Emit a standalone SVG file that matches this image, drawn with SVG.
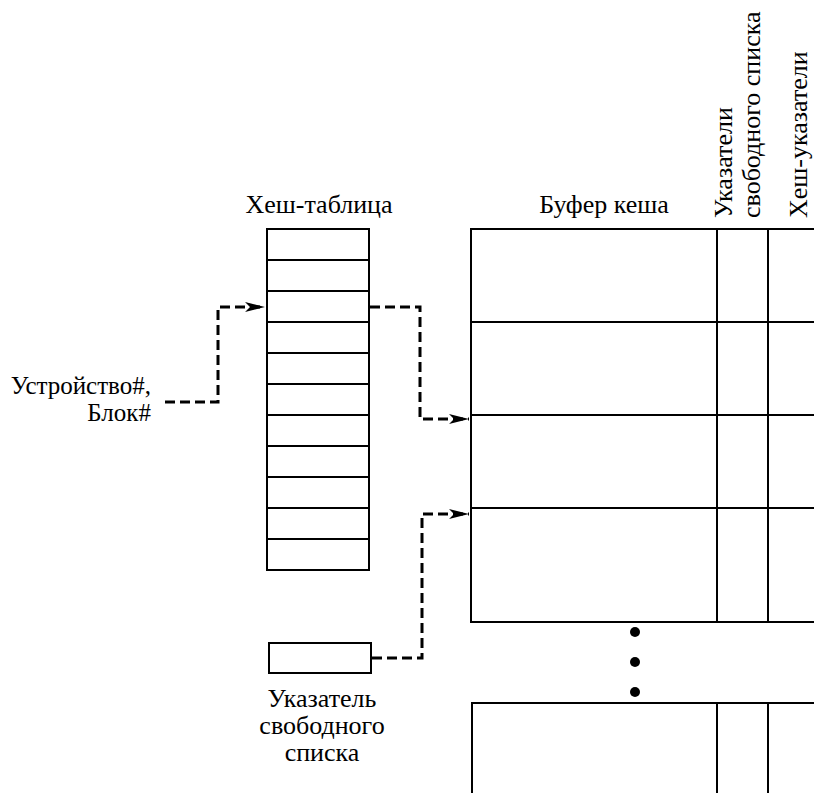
<svg xmlns="http://www.w3.org/2000/svg" width="814" height="793" viewBox="0 0 814 793">
<defs>
<marker id="arr" markerWidth="20" markerHeight="12" refX="20" refY="6" orient="auto" markerUnits="userSpaceOnUse">
<path d="M0,1 L20,6 L0,11 L5,6 Z" fill="#000"/>
</marker>
</defs>
<style>
text{font-family:"Liberation Serif","Times New Roman",serif;font-size:26px;fill:#000}
.sm{font-size:25px}
.ln{stroke:#000;stroke-width:2;fill:none}
.box{stroke:#000;stroke-width:2;fill:#fff}
.dash{stroke:#000;stroke-width:3;fill:none;stroke-dasharray:10 5}
</style>
<rect width="814" height="793" fill="#fff"/>

<g id="hash-table">
<text x="319" y="213" text-anchor="middle">Хеш-таблица</text>
<rect class="box" x="267" y="229" width="102" height="341"/>
<path class="ln" d="M267,260H369M267,291H369M267,322H369M267,353H369M267,384H369M267,415H369M267,446H369M267,477H369M267,508H369M267,539H369"/>
</g>

<g id="input-label">
<text class="sm" x="151" y="394" text-anchor="end">Устройство#,</text>
<text class="sm" x="151" y="421" text-anchor="end">Блок#</text>
</g>

<g id="cache-buffer">
<text x="604" y="213" text-anchor="middle">Буфер кеша</text>
<path class="ln" d="M814,229H471V622H814M471,322H814M471,415H814M471,508H814M717,229V622M768,229V622"/>
<text transform="translate(732,218) rotate(-90)">Указатели</text>
<text transform="translate(760,218) rotate(-90)">свободного списка</text>
<text transform="translate(807,218) rotate(-90)">Хеш-указатели</text>
<circle cx="635" cy="632" r="5" fill="#000"/>
<circle cx="635" cy="662" r="5" fill="#000"/>
<circle cx="635" cy="692" r="5" fill="#000"/>
<path class="ln" d="M472,793V703H814M717,703V793M768,703V793"/>
</g>

<g id="free-list-pointer">
<rect class="box" x="269" y="643" width="102" height="30"/>
<text x="322" y="707" text-anchor="middle">Указатель</text>
<text x="322" y="734" text-anchor="middle">свободного</text>
<text x="322" y="761" text-anchor="middle">списка</text>
</g>

<g id="connectors">
<path class="dash" d="M165,402H218V307H265" marker-end="url(#arr)"/>
<path class="dash" d="M370,307H420V419H469" marker-end="url(#arr)"/>
<path class="dash" d="M372,658H422V514H469" marker-end="url(#arr)"/>
</g>
</svg>
